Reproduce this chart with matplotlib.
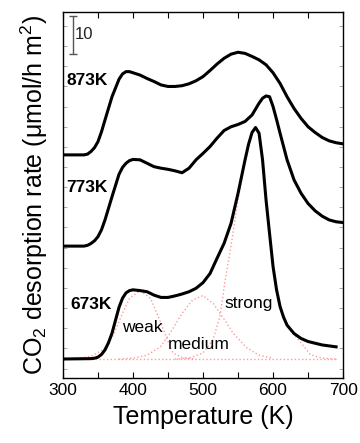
import numpy as np
import matplotlib
matplotlib.use("Agg")
from matplotlib import pyplot as plt

plt.rcParams['font.family'] = ['Liberation Sans', 'DejaVu Sans']
plt.rcParams['mathtext.fontset'] = 'custom'
plt.rcParams['mathtext.rm'] = 'Liberation Sans'
plt.rcParams['mathtext.it'] = 'Liberation Sans:italic'

# measured TPD curves (offset already included), temperature in K
t_673 = [300, 340, 345, 350, 355, 360, 365, 370, 375, 380, 385, 390, 395,
         400, 410, 420, 430, 440, 450, 460, 470, 480, 490, 500, 510, 520,
         530, 540, 550, 560, 565, 570, 575, 580, 585, 590, 595, 600, 605,
         610, 615, 620, 630, 640, 650, 670, 690]
y_673 = [5.0, 5.1, 5.2, 5.5, 6.2, 7.4, 9.3, 11.8, 15.2, 18.6, 21.0, 22.4,
         23.0, 23.2, 23.0, 22.7, 21.8, 21.2, 21.2, 21.6, 22.1, 22.7, 23.6,
         25.1, 27.5, 31.5, 35.4, 40.7, 48.6, 57.4, 61.5, 64.6, 65.9, 64.4,
         57.4, 46.8, 38.0, 29.3, 23.2, 18.8, 16.0, 13.9, 11.7, 10.4, 9.6,
         8.7, 8.2]

t_773 = [300, 330, 335, 340, 345, 350, 355, 360, 370, 380, 385, 390, 395,
         400, 410, 420, 430, 440, 450, 460, 470, 480, 490, 500, 510, 520,
         530, 540, 550, 560, 570, 580, 585, 590, 595, 600, 605, 610, 620,
         630, 640, 650, 660, 670, 680, 690, 700]
y_773 = [34.7, 34.7, 34.9, 35.4, 36.1, 37.2, 39.0, 41.6, 47.7, 53.6, 55.4,
         56.5, 57.2, 57.5, 57.4, 56.5, 55.6, 55.2, 54.9, 54.5, 54.0, 55.2,
         57.4, 59.1, 60.9, 63.1, 65.1, 66.1, 66.7, 67.5, 69.2, 72.3, 73.6,
         74.2, 74.0, 71.4, 68.0, 64.4, 57.4, 52.1, 48.6, 45.9, 44.0, 42.6,
         41.6, 41.1, 40.9]

t_873 = [300, 330, 335, 340, 345, 350, 355, 360, 370, 380, 385, 390, 395,
         400, 410, 420, 430, 440, 450, 460, 470, 480, 490, 500, 510, 520,
         530, 540, 550, 560, 570, 580, 590, 600, 610, 620, 630, 640, 650,
         660, 670, 680, 690, 700]
y_873 = [58.7, 58.7, 58.9, 59.6, 60.6, 62.2, 64.8, 67.9, 74.0, 78.6, 80.0,
         80.6, 80.6, 80.3, 79.7, 78.8, 78.0, 77.1, 76.7, 76.7, 76.9, 77.4,
         78.2, 79.3, 80.9, 82.6, 84.1, 85.2, 85.7, 85.4, 84.6, 83.7, 82.4,
         80.3, 77.5, 74.0, 70.9, 68.3, 66.1, 64.6, 63.3, 62.4, 61.9, 61.6]

# deconvoluted components of the 673K curve
t_weak = [320, 340, 357, 371, 385, 395, 410, 425, 438, 447, 457, 470, 490]
y_weak = [5.1, 5.7, 7.4, 11.0, 17.0, 21.0, 23.0, 21.0, 15.3, 11.0, 6.6,
          5.4, 5.0]
t_medium = [380, 400, 420, 439, 453, 470, 485, 500, 515, 530, 543, 562,
            580, 600]
y_medium = [5.0, 5.2, 6.0, 8.2, 11.8, 17.0, 20.5, 21.7, 19.5, 15.5, 11.8,
            8.0, 6.0, 5.2]
t_strong = [460, 480, 500, 514, 524, 531, 541, 550, 560, 570, 575, 580,
            590, 600, 608, 615, 625, 639, 653, 670, 690]
y_strong = [5.0, 5.2, 6.6, 10.0, 16.0, 25.0, 36.0, 47.0, 57.0, 64.5, 66.0,
            64.4, 47.0, 29.5, 20.0, 16.0, 12.5, 9.5, 6.2, 5.2, 5.0]
t_base = [320, 693]
y_base = [5.0, 5.0]

fig = plt.figure(figsize=(3.6, 4.43), dpi=100)
ax = fig.add_axes([0.175, 0.1467, 0.778, 0.8263])

pink = '#ff9a9a'
for tt, yy in [(t_base, y_base), (t_weak, y_weak), (t_medium, y_medium),
               (t_strong, y_strong)]:
    ax.plot(tt, yy, ':', color=pink, lw=1.0)

for tt, yy in [(t_673, y_673), (t_773, y_773), (t_873, y_873)]:
    ax.plot(tt, yy, '-', color='black', lw=2.2, solid_joinstyle='round')

ax.text(305, 78.2, '873K', fontsize=12.5, fontweight='bold', va='center')
ax.text(305, 50.0, '773K', fontsize=12.5, fontweight='bold', va='center')
ax.text(311, 19.4, '673K', fontsize=12.5, fontweight='bold', va='center')
ax.text(384, 13.2, 'weak', fontsize=12.5, va='center')
ax.text(450, 8.7, 'medium', fontsize=12.5, va='center')
ax.text(531, 19.7, 'strong', fontsize=12.5, va='center')

# scale bar
ax.errorbar([314], [90.3], yerr=[5.0], color='#555555', lw=1.0,
            capsize=3, capthick=1.0)
ax.text(316.5, 90.3, '10', fontsize=12, va='center', color='#222222')

ax.set_xlim(300, 700)
ax.set_ylim(0, 96.3)
ax.set_xticks([300, 400, 500, 600, 700])
ax.set_xticks([350, 450, 550, 650], minor=True)
ax.set_yticks(np.arange(2.5, 96, 5.3))
ax.set_yticklabels([])
ax.tick_params(axis='x', which='both', direction='in', top=True,
               labelsize=12.5, length=4, width=0.8)
ax.tick_params(axis='y', direction='in', right=True, length=3, width=0.5,
               color='#888888')
ax.set_xlabel('Temperature (K)', fontsize=18, labelpad=5)
ax.set_ylabel('CO$_2$ desorption rate (μmol/h m$^2$)', fontsize=18,
              labelpad=6)
for s in ax.spines.values():
    s.set_linewidth(1.0)

fig.savefig('out.png', dpi=100)
